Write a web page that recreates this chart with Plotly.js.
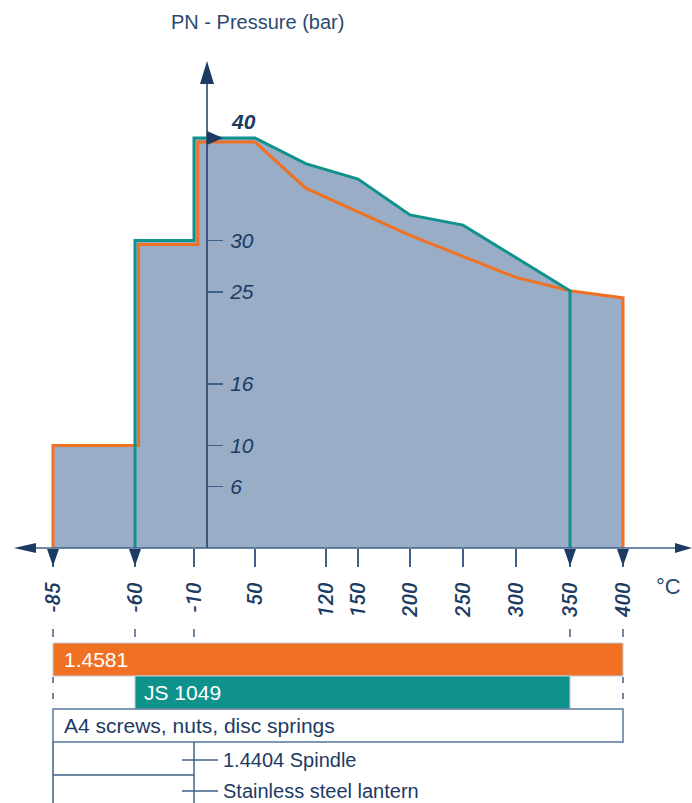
<!DOCTYPE html>
<html><head><meta charset="utf-8">
<script src="https://cdn.plot.ly/plotly-3.0.1.min.js"></script>
<style>html,body{margin:0;padding:0;background:#fff}#chart{width:692px;height:803px}</style>
</head><body><div id="chart"></div>
<script>
// ---------------- data ----------------
const temperatureTicks = [-85, -60, -10, 50, 120, 150, 200, 250, 300, 350, 400];
const pressureTicks = [6, 10, 16, 25, 30];
const pressureMax = 40;
const markedLimits = [-85, -60, 350, 400];

const js1049Temp     = [-60, -60, -10, -10, 50, 100, 150, 200, 250, 350, 350];
const js1049Pressure = [0, 30, 30, 40, 40, 37.5, 36.0, 32.5, 31.5, 25.1, 0];

const m14581Temp     = [-85, -85, -57, -57, -7, -7, 50, 100, 200, 300, 350, 400, 400];
const m14581Pressure = [0, 10, 10, 29.6, 29.6, 39.6, 39.6, 35.1, 30.5, 26.4, 25.1, 24.4, 0];

const materialNames = ['1.4581', 'JS 1049', 'A4 screws, nuts, disc springs'];
const materialFrom  = [-85, -60, -85];
const materialTo    = [400, 350, 400];
const partNames = ['1.4404 Spindle', 'Stainless steel lantern'];
const partLimit = -10;

// ---------------- layout helpers ----------------
const W = 692, H = 803;
const NAVY = '#1c3b63', AXIS = '#3f6089', ORANGE = '#f07124', TEAL = '#0e928b', FILL = '#99adc6';
const FONT = 'Liberation Sans, Arial, sans-serif';
// piecewise temperature scale of the diagram (broken axis)
const scaleT = [-85, -60, -10, 0, 50, 120, 150, 200, 250, 300, 350, 400];
const scaleX = [53, 135, 194, 207, 255, 326, 358, 410, 463, 516, 570, 623];
function X(t) {
  let i = 0;
  while (i < scaleT.length - 2 && t > scaleT[i + 1]) i++;
  const f = (t - scaleT[i]) / (scaleT[i + 1] - scaleT[i]);
  return scaleX[i] + f * (scaleX[i + 1] - scaleX[i]);
}
const Y0 = 548, PPB = 10.25;            // axis row and pixels per bar
const yRange = [(Y0 - H) / PPB, Y0 / PPB];
const py = p => 1 - p / H;             // pixel row -> paper

const traces = [
  {x: m14581Temp.map(X), y: m14581Pressure, mode: 'none', fill: 'toself', fillcolor: FILL, hoverinfo: 'skip'},
  {x: js1049Temp.map(X), y: js1049Pressure, mode: 'none', fill: 'toself', fillcolor: FILL, hoverinfo: 'skip'},
  {x: m14581Temp.map(X), y: m14581Pressure, mode: 'lines', line: {color: ORANGE, width: 3}, hoverinfo: 'skip'},
  {x: js1049Temp.map(X), y: js1049Pressure, mode: 'lines', line: {color: TEAL, width: 3}, hoverinfo: 'skip'}
];

const shapes = [];
const ann = [];
const x0 = X(0);
// axes lines and arrows
shapes.push({type: 'line', xref: 'x', yref: 'paper', x0: x0, x1: x0, y0: py(Y0), y1: py(80), line: {color: NAVY, width: 1.5}});
shapes.push({type: 'path', xref: 'x', yref: 'paper', path: `M${x0 - 7},${py(84)} L${x0},${py(61)} L${x0 + 7},${py(84)} Z`, fillcolor: NAVY, line: {width: 0}});
shapes.push({type: 'line', xref: 'x', yref: 'paper', x0: 30, x1: 680, y0: py(Y0), y1: py(Y0), line: {color: AXIS, width: 1.5}});
shapes.push({type: 'path', xref: 'x', yref: 'paper', path: `M14,${py(Y0)} L36,${py(Y0 - 5)} L36,${py(Y0 + 5)} Z`, fillcolor: NAVY, line: {width: 0}});
shapes.push({type: 'path', xref: 'x', yref: 'paper', path: `M692,${py(Y0)} L675,${py(Y0 - 5)} L675,${py(Y0 + 5)} Z`, fillcolor: NAVY, line: {width: 0}});
markedLimits.forEach(t => {
  const cx = X(t);
  shapes.push({type: 'path', xref: 'x', yref: 'paper', path: `M${cx - 6},${py(549)} L${cx + 6},${py(549)} L${cx},${py(566)} Z`, fillcolor: NAVY, line: {width: 0}});
});
// 40 marker
const y40 = Y0 - pressureMax * PPB;
shapes.push({type: 'path', xref: 'x', yref: 'paper', path: `M${x0},${py(y40 - 7)} L${x0 + 16},${py(y40)} L${x0},${py(y40 + 7)} Z`, fillcolor: NAVY, line: {width: 0}});
ann.push({xref: 'x', yref: 'paper', x: x0 + 22, y: py(y40 - 16), text: '<b><i>' + pressureMax + '</i></b>', showarrow: false, xanchor: 'left', yanchor: 'middle', font: {family: FONT, size: 21, color: NAVY}});

// bottom table
[-85, -60, -10, 350, 400].forEach(t => {
  shapes.push({type: 'line', xref: 'x', yref: 'paper', x0: X(t), x1: X(t), y0: py(629), y1: py(637), line: {color: AXIS, width: 1.5}});
});
const rowTop = [643, 676, 709], rowH = 33;
const rowFill = [ORANGE, TEAL, '#ffffff'];
const rowLine = ['#c3ccd8', '#c3ccd8', '#56779c'];
const rowText = ['#ffffff', '#ffffff', NAVY];
materialNames.forEach((name, i) => {
  shapes.push({type: 'rect', xref: 'x', yref: 'paper', x0: X(materialFrom[i]), x1: X(materialTo[i]), y0: py(rowTop[i] + rowH), y1: py(rowTop[i]), fillcolor: rowFill[i], line: {color: rowLine[i], width: i === 2 ? 1.5 : 1}});
  ann.push({xref: 'x', yref: 'paper', x: X(materialFrom[i]) + (i === 1 ? 7 : 9), y: py(rowTop[i] + rowH / 2), text: name, showarrow: false, xanchor: 'left', yanchor: 'middle', font: {family: FONT, size: 21, color: rowText[i]}});
});
[X(-85), X(400)].forEach(xx => {
  shapes.push({type: 'line', xref: 'x', yref: 'paper', x0: xx, x1: xx, y0: py(677), y1: py(708), line: {color: AXIS, width: 1.5, dash: '6px,10px'}});
});
const xl = X(partLimit);
shapes.push({type: 'line', xref: 'x', yref: 'paper', x0: X(-85), x1: X(-85), y0: py(742), y1: py(803), line: {color: AXIS, width: 1.5}});
shapes.push({type: 'line', xref: 'x', yref: 'paper', x0: xl, x1: xl, y0: py(742), y1: py(803), line: {color: AXIS, width: 1.5}});
shapes.push({type: 'line', xref: 'x', yref: 'paper', x0: X(-85), x1: xl, y0: py(775), y1: py(775), line: {color: AXIS, width: 1.5}});
const partY = [760, 791];
partNames.forEach((name, i) => {
  shapes.push({type: 'line', xref: 'x', yref: 'paper', x0: xl - 12, x1: xl + 24, y0: py(partY[i]), y1: py(partY[i]), line: {color: AXIS, width: 1.5}});
  ann.push({xref: 'x', yref: 'paper', x: xl + 27, y: py(partY[i]), text: name, showarrow: false, xanchor: 'left', yanchor: 'middle', font: {family: FONT, size: 20, color: NAVY}});
});

// titles
ann.push({xref: 'paper', yref: 'paper', x: 257 / W, y: py(22), text: 'PN - Pressure (bar)', showarrow: false, xanchor: 'center', yanchor: 'middle', font: {family: FONT, size: 20, color: '#2b4a70'}});
ann.push({xref: 'paper', yref: 'paper', x: 668 / W, y: py(586), text: '°C', showarrow: false, xanchor: 'center', yanchor: 'middle', font: {family: FONT, size: 22, color: '#2b4a70'}});

const layout = {
  width: W, height: H, margin: {l: 0, r: 0, t: 0, b: 0},
  paper_bgcolor: '#fff', plot_bgcolor: 'rgba(0,0,0,0)', showlegend: false,
  xaxis: {range: [0, W], anchor: 'free', position: py(Y0), showgrid: false, zeroline: false, showline: false,
    tickmode: 'array', tickvals: temperatureTicks.map(X), ticktext: temperatureTicks.map(String),
    ticks: 'outside', ticklen: 18, tickwidth: 1.5, tickcolor: AXIS, tickangle: -90, ticklabelstandoff: 7,
    tickfont: {family: 'Roboto, ' + FONT, size: 21, color: NAVY, style: 'italic', weight: 500}, automargin: false, fixedrange: true},
  yaxis: {range: yRange, anchor: 'free', position: x0 / W, side: 'right', showgrid: false, zeroline: false, showline: false,
    tickmode: 'array', tickvals: pressureTicks, ticktext: pressureTicks.map(String),
    ticks: 'outside', ticklen: 15, tickwidth: 1.5, tickcolor: AXIS, ticklabelstandoff: 3,
    tickfont: {family: FONT, size: 21, color: NAVY, style: 'italic'}, automargin: false, fixedrange: true},
  shapes: shapes, annotations: ann, hovermode: false
};
Plotly.newPlot('chart', traces, layout, {displayModeBar: false, staticPlot: true});
</script></body></html>
